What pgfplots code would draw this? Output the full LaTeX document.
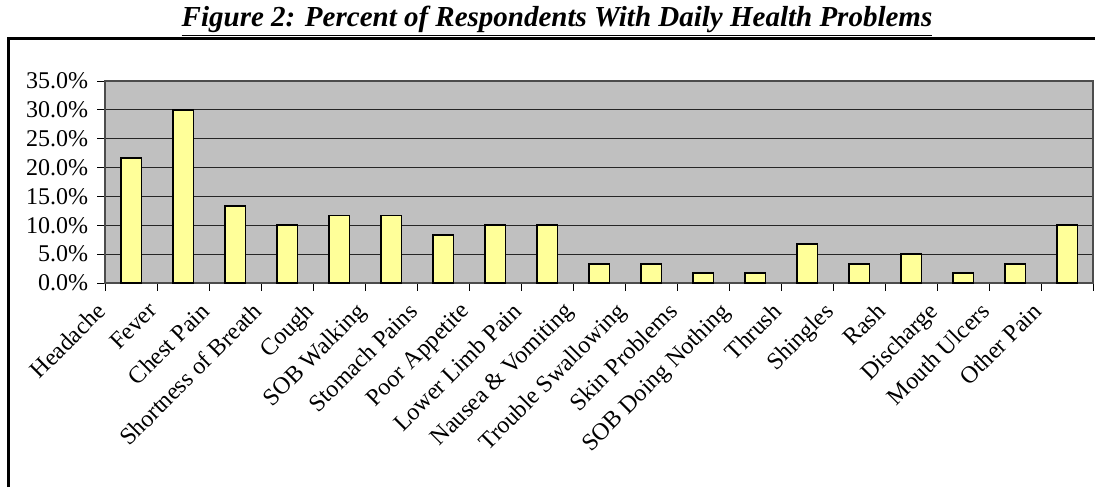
\documentclass[border=0pt]{standalone}
\usepackage{fontspec}
\setmainfont{Liberation Serif}
\usepackage{pgfplots}
\pgfplotsset{compat=1.18}
\definecolor{plotbg}{HTML}{C0C0C0}
\definecolor{barfill}{HTML}{FFFF99}
\begin{document}
\begin{tikzpicture}
\useasboundingbox (0,0) rectangle (547.5pt,-243.5pt);
\draw[line width=1.5pt] (4.25pt,-243.5pt) -- (4.25pt,-19.25pt) -- (547.5pt,-19.25pt);
\node at (278.5pt,-10.5pt) {\fontsize{14.5}{16}\selectfont\bfseries\itshape\underline{Figure 2: Percent of Respondents With Daily Health Problems}};
\begin{axis}[
  at={(52.5pt,-141.5pt)}, anchor=south west,
  scale only axis, width=494pt, height=101pt,
  xmin=0.5, xmax=19.5, ymin=0, ymax=35,
  axis background/.style={fill=plotbg},
  axis line style={draw=black!70, line width=0.6pt},
  tick align=outside,
  tick pos=left,
  major tick length=3.8pt,
  tick style={black, line width=0.5pt},
  xtick={1,2,...,19},
  xticklabels={Headache,Fever,Chest Pain,Shortness of Breath,Cough,SOB Walking,Stomach Pains,Poor Appetite,Lower Limb Pain,Nausea \& Vomiting,Trouble Swallowing,Skin Problems,SOB Doing Nothing,Thrush,Shingles,Rash,Discharge,Mouth Ulcers,Other Pain},
  every major x tick/.style={draw=none},
  minor xtick={0.5,1.5,...,19.5},
  minor tick length=3.8pt,
  xticklabel style={xshift=-18pt, yshift=-5pt, rotate=45, anchor=north east, inner sep=0pt, font=\fontsize{12}{13}\selectfont},
  ytick={0,5,...,35},
  yticklabels={0.0\%,5.0\%,10.0\%,15.0\%,20.0\%,25.0\%,30.0\%,35.0\%},
  yticklabel style={inner sep=0pt, xshift=-4.5pt, font=\fontsize{12}{13}\selectfont},
  ymajorgrids,
  grid style={black!85, line width=0.5pt},
  clip=false,
]
\addplot[ybar, bar width=10.4pt, fill=barfill, draw=black, line width=0.9pt] coordinates {
(1,21.7) (2,30.0) (3,13.3) (4,10.0) (5,11.7) (6,11.7) (7,8.3) (8,10.0) (9,10.0) (10,3.3)
(11,3.3) (12,1.7) (13,1.7) (14,6.7) (15,3.3) (16,5.0) (17,1.7) (18,3.3) (19,10.0)};
\end{axis}
\end{tikzpicture}
\end{document}
